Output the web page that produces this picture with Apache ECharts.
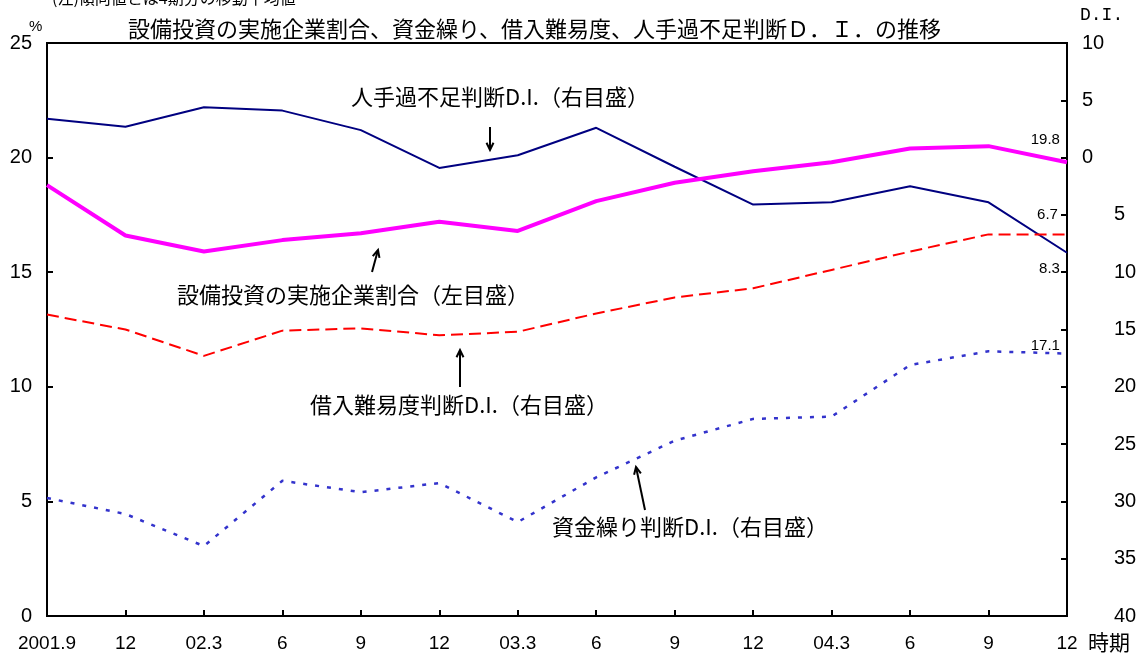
<!DOCTYPE html>
<html><head><meta charset="utf-8">
<script src="https://cdn.jsdelivr.net/npm/echarts@6/dist/echarts.min.js"></script>
<style>html,body{margin:0;padding:0;background:#fff}#c{width:1141px;height:655px}</style>
</head><body><div id="c"></div>
<script>
const categories = ['2001.9','12','02.3','6','9','12','03.3','6','9','12','04.3','6','9','12'];
const capexShare = [18.8,16.6,15.9,16.4,16.7,17.2,16.8,18.1,18.9,19.4,19.8,20.4,20.5,19.8];
const laborDI = [3.4,2.7,4.4,4.1,2.4,-0.9,0.2,2.6,-0.8,-4.1,-3.9,-2.5,-3.9,-8.3];
const lendingDI = [-13.7,-15.0,-17.3,-15.1,-14.9,-15.5,-15.2,-13.6,-12.2,-11.4,-9.8,-8.2,-6.7,-6.7];
const cashflowDI = [-29.7,-31.1,-33.9,-28.2,-29.2,-28.4,-31.8,-27.9,-24.7,-22.8,-22.6,-18.1,-16.9,-17.1];
const titleText = '設備投資の実施企業割合、資金繰り、借入難易度、人手過不足判断Ｄ．Ｉ．の推移';
const noteText = '(注)傾向値とは4期分の移動平均値';
const seriesNames = ['設備投資の実施企業割合（左目盛）','人手過不足判断D.I.（右目盛）','借入難易度判断D.I.（右目盛）','資金繰り判断D.I.（右目盛）'];

const CJK = 'Noto Sans CJK JP';
const NUM = 'Liberation Sans';
const chart = echarts.init(document.getElementById('c'), null, {renderer:'canvas'});

function withEndLabel(arr, lbl){
  const n = arr.length;
  return arr.map((v,i)=> i===n-1 ? {value:v, label:Object.assign({show:true, position:'left', distance:7,
     fontFamily:NUM, fontSize:15, color:'#000',
     formatter: p => Math.abs(p.value).toFixed(1)}, lbl)} : v);
}

function arrow(x1,y1,x2,y2){
  const ang = Math.atan2(y2-y1, x2-x1);
  const L = 8, a = 0.45;
  const h1 = [x2 - L*Math.cos(ang-a), y2 - L*Math.sin(ang-a)];
  const h2 = [x2 - L*Math.cos(ang+a), y2 - L*Math.sin(ang+a)];
  return [
    {type:'line', shape:{x1,y1,x2,y2}, style:{stroke:'#000', lineWidth:2}},
    {type:'polyline', shape:{points:[h1,[x2,y2],h2]}, style:{stroke:'#000', lineWidth:2, fill:null}}
  ];
}

const graphics = [
  {type:'text', left:52, top:-10, style:{text:noteText, font:'16px "'+CJK+'"', fill:'#000'}},
  {type:'text', x:29, y:19, style:{text:'%', font:'15px "'+NUM+'"', fill:'#000'}},
  {type:'text', x:1080, y:6, style:{text:'D.I.', font:'18px "Liberation Mono"', fill:'#000'}},
  {type:'text', x:1088, y:632, style:{text:'時期', font:'21px "'+CJK+'"', fill:'#000'}},
  {type:'text', x:500, y:97, style:{text:seriesNames[1], font:'22px "'+CJK+'"', fill:'#000', textAlign:'center', textVerticalAlign:'middle'}},
  {type:'text', x:353, y:295, style:{text:seriesNames[0], font:'22px "'+CJK+'"', fill:'#000', textAlign:'center', textVerticalAlign:'middle'}},
  {type:'text', x:459, y:405, style:{text:seriesNames[2], font:'22px "'+CJK+'"', fill:'#000', textAlign:'center', textVerticalAlign:'middle'}},
  {type:'text', x:690, y:527, style:{text:seriesNames[3], font:'22px "'+CJK+'"', fill:'#000', textAlign:'center', textVerticalAlign:'middle'}}
].concat(arrow(490,127,490,150), arrow(372,272,378,250), arrow(460,387,460,350), arrow(645,510,636,467));

const rightBase = {type:'value', min:-40, max:10, interval:5, position:'right', splitLine:{show:false}};

chart.setOption({
  animation:false,
  backgroundColor:'#fff',
  title:{text:titleText, left:123, top:13, textStyle:{fontFamily:CJK, fontSize:22, fontWeight:'normal', color:'#000'}},
  grid:{left:47, right:74, top:43, bottom:39, show:true, borderColor:'#000', borderWidth:2, backgroundColor:'transparent'},
  xAxis:{type:'category', data:categories, boundaryGap:false,
    axisLine:{lineStyle:{color:'#000', width:2}},
    axisTick:{inside:true, length:6, lineStyle:{color:'#000', width:2}},
    axisLabel:{fontFamily:NUM, fontSize:19, color:'#000', margin:18, interval:0},
    splitLine:{show:false}},
  yAxis:[
    {type:'value', min:0, max:25, interval:5, position:'left',
     axisLine:{show:true, lineStyle:{color:'#000', width:2}},
     axisTick:{show:true, inside:true, length:6, lineStyle:{color:'#000', width:2}},
     axisLabel:{fontFamily:NUM, fontSize:20, color:'#000', margin:15},
     splitLine:{show:false}},
    Object.assign({}, rightBase, {
     axisLine:{show:true, lineStyle:{color:'#000', width:2}},
     axisTick:{show:true, inside:true, length:6, lineStyle:{color:'#000', width:2}},
     axisLabel:{fontFamily:NUM, fontSize:20, color:'#000', margin:15, align:'left',
       formatter: v => v >= 0 ? String(Math.abs(v)) : ''}}),
    Object.assign({}, rightBase, {
     axisLine:{show:false}, axisTick:{show:false},
     axisLabel:{fontFamily:NUM, fontSize:20, color:'#000', margin:47, align:'left',
       formatter: v => v < 0 ? String(Math.abs(v)) : ''}})
  ],
  series:[
    {name:seriesNames[0], type:'line', yAxisIndex:0, data:withEndLabel(capexShare,{offset:[0,-22]}), symbol:'circle', symbolSize:0.1,
     lineStyle:{color:'#ff00ff', width:4}, itemStyle:{color:'#ff00ff'}, z:5},
    {name:seriesNames[1], type:'line', yAxisIndex:1, data:withEndLabel(laborDI,{offset:[0,16]}), symbol:'circle', symbolSize:0.1,
     lineStyle:{color:'#000080', width:2}, itemStyle:{color:'#000080'}},
    {name:seriesNames[2], type:'line', yAxisIndex:1, data:withEndLabel(lendingDI,{offset:[0,-20], distance:9}), symbol:'circle', symbolSize:0.1,
     lineStyle:{color:'#ff0000', width:2, type:[12,6]}, itemStyle:{color:'#ff0000'}},
    {name:seriesNames[3], type:'line', yAxisIndex:1, data:withEndLabel(cashflowDI,{offset:[0,-8]}), symbol:'circle', symbolSize:0.1,
     lineStyle:{color:'#3333cc', width:2.5, type:[4,8]}, itemStyle:{color:'#3333cc'}}
  ],
  graphic:graphics
});
</script></body></html>
